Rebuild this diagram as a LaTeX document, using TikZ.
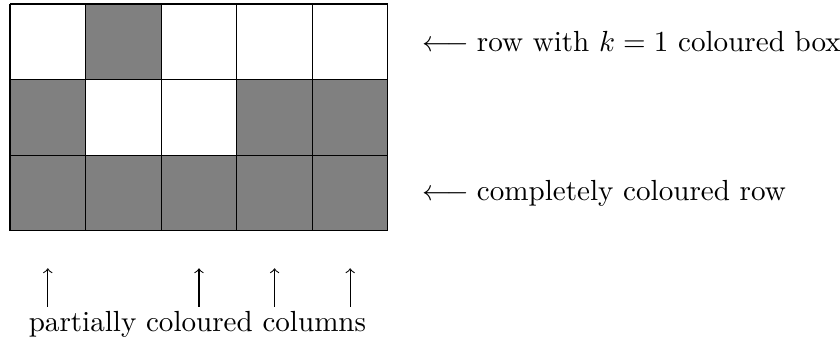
\documentclass[11pt,tikz,border=0pt]{standalone}
\begin{document}
\begin{tikzpicture}[x=1cm,y=1cm,
  cellfill/.style={fill=gray},
  lbl/.style={inner sep=0pt, anchor=west},
  uparr/.style={-to, line width=0.4pt}]
\useasboundingbox (-0.132,-1.537) rectangle (10.979,3.053);
% coloured cells (top row: y 2..3)
\fill[cellfill] (1,2) rectangle (2,3);
\fill[cellfill] (0,1) rectangle (1,2);
\fill[cellfill] (3,1) rectangle (5,2);
\fill[cellfill] (0,0) rectangle (5,1);
\draw (0,0) grid (5,3);
\node[lbl] (r1) at (5.45,2.5) {$\longleftarrow$\hspace{-0.8pt} row with $k=1$ coloured box};
\node[lbl] (r3) at (5.45,0.5) {$\longleftarrow$\hspace{-0.8pt} completely coloured row};
\foreach \c in {1,3,4,5}{
  \coordinate (s\c) at (\c-0.5,-1.004);
  \coordinate (e\c) at (\c-0.5,-0.496);
  \draw[uparr] (s\c) -- (e\c);
}
\node (cols) at (2.48,-1.24) {partially coloured columns};
\end{tikzpicture}
\end{document}
